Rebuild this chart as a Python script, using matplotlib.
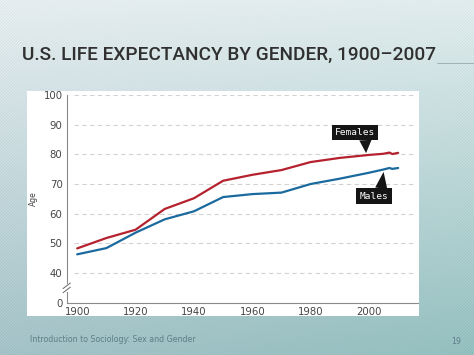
import numpy as np
import matplotlib
matplotlib.use("Agg")
import matplotlib.pyplot as plt
from matplotlib.patches import Rectangle

# ---- data ----
years = [1900, 1910, 1920, 1930, 1940, 1950, 1960, 1970, 1980, 1990, 2000, 2005, 2007, 2008, 2010]
females = [48.3, 51.8, 54.6, 61.6, 65.2, 71.1, 73.1, 74.7, 77.4, 78.8, 79.8, 80.2, 80.6, 80.1, 80.5]
males = [46.3, 48.4, 53.6, 58.1, 60.8, 65.6, 66.6, 67.1, 70.0, 71.8, 73.8, 74.9, 75.4, 75.1, 75.4]
x_ticks = [1900, 1920, 1940, 1960, 1980, 2000]
y_ticks = [40, 50, 60, 70, 80, 90, 100]
title = "U.S. LIFE EXPECTANCY BY GENDER, 1900\u20132007"
footer = "Introduction to Sociology: Sex and Gender"
page = "19"

W, H = 474, 355
fig = plt.figure(figsize=(W / 100, H / 100), dpi=100)

# ---- slide background ----
bg = fig.add_axes([0, 0, 1, 1])
bg.set_axis_off()
yy, xx = np.mgrid[0:H, 0:W]
t = yy / H
top = np.array([0.90, 0.93, 0.94])
bot = np.array([0.64, 0.76, 0.78])
img = top[None, None, :] * (1 - t[..., None]) + bot[None, None, :] * t[..., None]
s = (xx / W)[..., None]
img = img + (np.array([-0.06, -0.01, -0.03]) * s * (0.3 + 0.7 * t[..., None]))
stripes = 0.025 * np.sin((xx + yy) * 2 * np.pi / 3.0)
mask = np.clip(np.abs(xx - W / 2) / (W / 2), 0, 1) ** 1.5
img = img + (stripes * (0.4 + 0.6 * mask))[..., None]
img = np.clip(img, 0, 1)
bg.imshow(img, extent=[0, 1, 0, 1], aspect="auto", origin="upper")
bg.set_xlim(0, 1)
bg.set_ylim(0, 1)

# white chart panel
bg.add_patch(Rectangle((27 / W, (H - 316) / H), 392 / W, 225 / H,
                       facecolor="white", edgecolor="none"))

# title (font size fitted to the reference width)
ttl = bg.text(22 / W, (H - 55) / H, title, ha="left", va="center",
              fontsize=17, color="#303030", family="Roboto", fontweight="medium")
fig.canvas.draw()
wpx = ttl.get_window_extent().width
ttl.set_fontsize(17 * 415 / wpx)
bg.plot([437 / W, 1], [(H - 63) / H] * 2, color="#9aa9ad", lw=0.6)

# footer
bg.text(30 / W, (H - 339) / H, footer, ha="left", va="center",
        fontsize=5.7, color="#5f7e88", family="DejaVu Sans")
bg.text(456 / W, (H - 341) / H, page, ha="center", va="center",
        fontsize=5.7, color="#5f7e88", family="DejaVu Sans")

# ---- chart ----
ax = fig.add_axes([66.7 / W, (H - 302.7) / H, 351.3 / W, 207.7 / H])
ax.set_facecolor("none")
ax.set_xlim(1896.4, 2016.8)
ax.set_ylim(30, 100)

for v in y_ticks:
    ax.axhline(v, xmin=0.02, xmax=0.99, color="#d2d2d2", lw=0.8,
               ls=(0, (4, 3)), zorder=1)

red = "#b5212e"
blue = "#1a6a9e"
ax.plot(years, females, color=red, lw=1.6, zorder=3, solid_capstyle="round")
ax.plot(years, males, color=blue, lw=1.6, zorder=3, solid_capstyle="round")

for sp in ["top", "right"]:
    ax.spines[sp].set_visible(False)
ax.spines["left"].set_color("#8a8a8a")
ax.spines["bottom"].set_color("#8a8a8a")
ax.spines["left"].set_linewidth(0.8)
ax.spines["bottom"].set_linewidth(0.8)

ax.set_xticks(x_ticks)
ax.set_xticklabels([str(x) for x in x_ticks])
ax.set_yticks([30] + y_ticks)
ax.set_yticklabels(["0"] + [str(v) for v in y_ticks])
ax.tick_params(length=0, labelsize=7.3, colors="#444444", pad=3)
ax.set_ylabel("Age", fontsize=5.5, color="#444444", labelpad=4)

# axis break marks
brk_y = 35
ax.plot([ax.get_xlim()[0]] * 2, [brk_y - 0.6, brk_y + 0.6], color="white",
        lw=3, zorder=5, clip_on=False)
for dy in (-0.7, 0.7):
    ax.plot([1895.2, 1897.6], [brk_y + dy - 0.9, brk_y + dy + 0.9],
            color="#666666", lw=0.7, zorder=6, clip_on=False)

# callouts
box = dict(boxstyle="square,pad=0.35", fc="#151515", ec="none")
wedge = "wedge,tail_width=1.3,shrink_factor=0.5"
ax.annotate("Females", xy=(years[10] - 1, females[10] + 0.6), xytext=(-8, 15),
            textcoords="offset points", ha="center", va="center",
            fontsize=6.8, color="white", family="DejaVu Sans Mono", bbox=box,
            arrowprops=dict(arrowstyle=wedge, fc="#151515", ec="none",
                            relpos=(0.75, 0.5), shrinkA=0, shrinkB=0),
            zorder=7)
ax.annotate("Males", xy=(years[11], males[11] - 0.8), xytext=(-7, -17.5),
            textcoords="offset points", ha="center", va="center",
            fontsize=6.8, color="white", family="DejaVu Sans Mono", bbox=box,
            arrowprops=dict(arrowstyle=wedge, fc="#151515", ec="none",
                            relpos=(0.72, 0.5), shrinkA=0, shrinkB=0),
            zorder=7)

fig.savefig("out.png", dpi=100)
